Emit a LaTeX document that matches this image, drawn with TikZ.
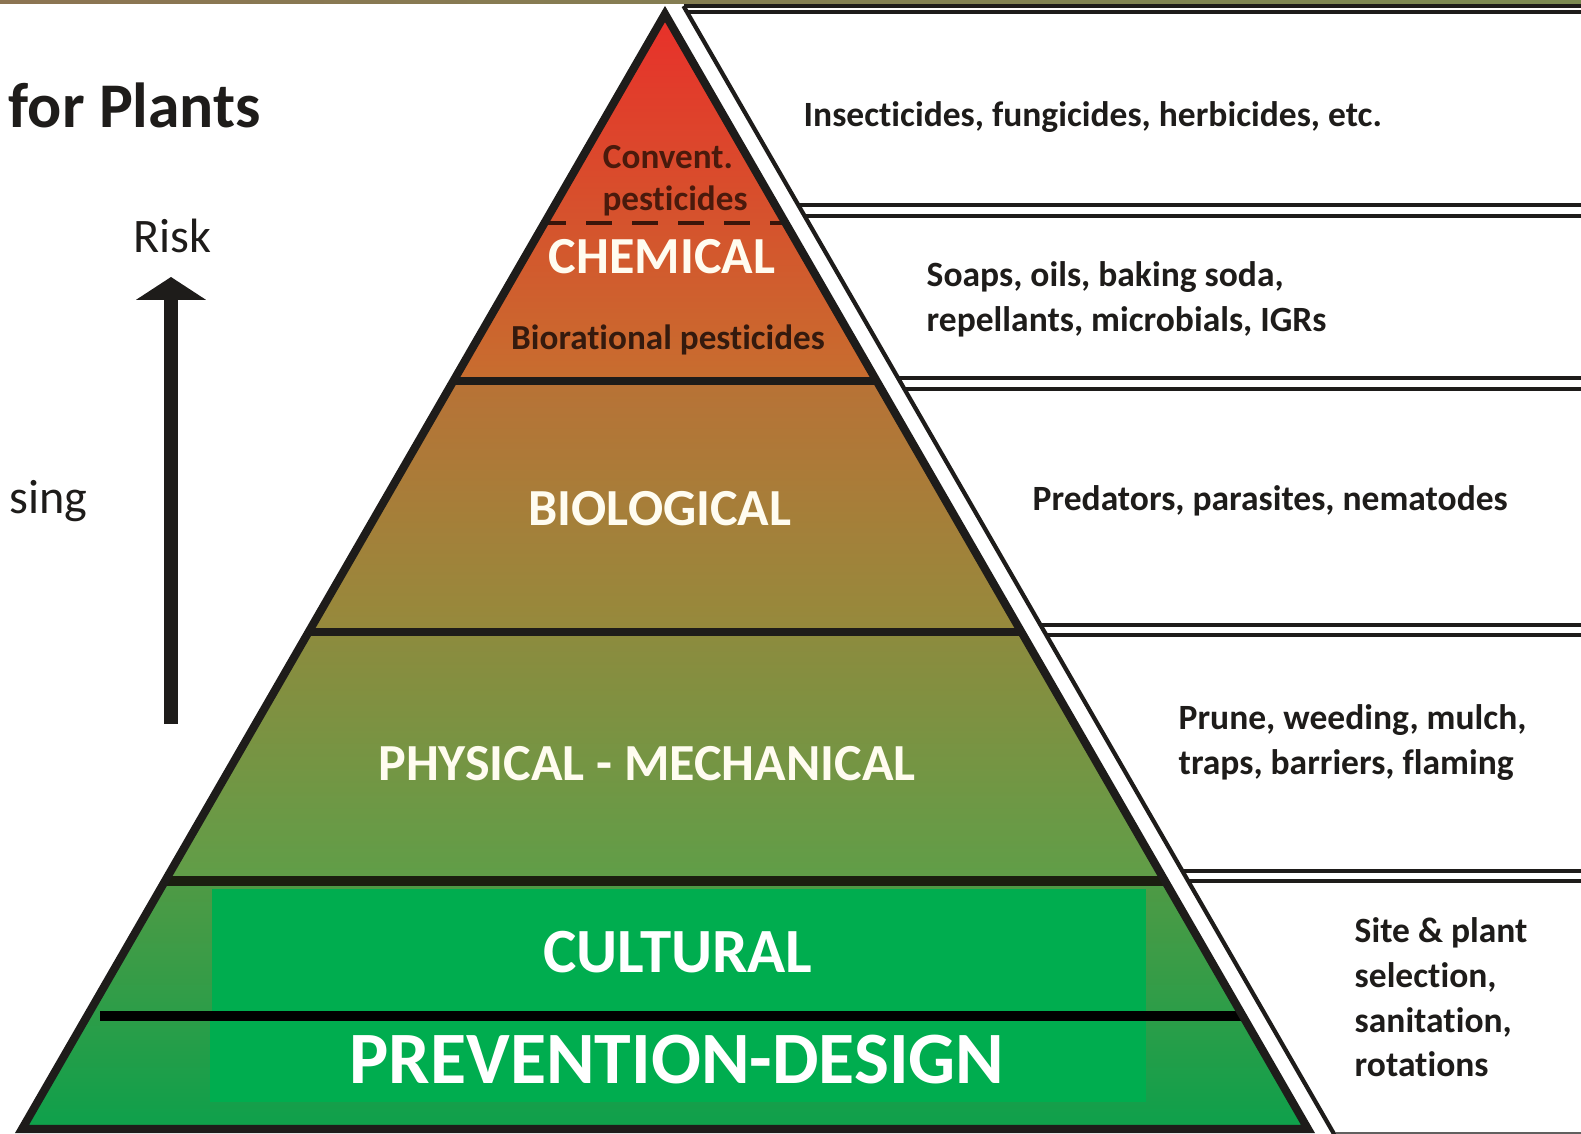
\documentclass[tikz,border=0pt]{standalone}
\usepackage{fontspec}
\setmainfont{Carlito}[Ligatures=NoCommon]
\usetikzlibrary{arrows.meta}
\definecolor{chemtop}{HTML}{E8302A}
\definecolor{chemmid}{HTML}{D6552B}
\definecolor{chembot}{HTML}{C76E2F}
\definecolor{biotop}{HTML}{B87236}
\definecolor{biobot}{HTML}{958A3C}
\definecolor{phystop}{HTML}{8D8B3E}
\definecolor{physbot}{HTML}{5F9E48}
\definecolor{culttop}{HTML}{4F9A45}
\definecolor{cultbot}{HTML}{0EA04B}
\definecolor{brightgreen}{HTML}{00AD4F}
\definecolor{ink}{HTML}{1E1C1A}
\definecolor{brownink}{HTML}{4A1A0C}
\definecolor{cream}{HTML}{FFFCF0}
\definecolor{stripa}{HTML}{8C7452}
\definecolor{stripb}{HTML}{7C8A52}
\begin{document}
\begin{tikzpicture}[x=0.01cm,y=-0.01cm,
  outline/.style={draw=ink, line width=2.3pt, line join=miter},
  layerline/.style={draw=ink, line width=2.3pt},
  panelline/.style={draw=ink, line width=1.2pt},
  whitelbl/.style={font=\bfseries\fontsize{14.8pt}{17pt}\selectfont, text=cream, inner sep=0pt, anchor=base},
  darklbl/.style={font=\bfseries\fontsize{10pt}{12pt}\selectfont, text=brownink, inner sep=0pt, anchor=base},
  desc/.style={font=\bfseries\fontsize{10.1pt}{12pt}\selectfont, text=ink, inner sep=0pt, anchor=base west},
  sidetext/.style={font=\fontsize{13.7pt}{16pt}\selectfont, text=ink, inner sep=0pt}]
\useasboundingbox (0,0) rectangle (1581,1134);
\clip (0,0) rectangle (1581,1134);
\fill[white] (0,0) rectangle (1581,1134);
% top strip
\shade[left color=stripa, right color=stripb] (0,0) rectangle (1581,4);

% pyramid layers
\shade[top color=chemtop, middle color=chemmid, bottom color=chembot]
  (665,14) -- (876.6,381) -- (453.4,381) -- cycle;
\shade[top color=biotop, bottom color=biobot]
  (453.4,381) -- (876.6,381) -- (1021.4,632) -- (308.6,632) -- cycle;
\shade[top color=phystop, bottom color=physbot]
  (308.6,632) -- (1021.4,632) -- (1165,881) -- (165,881) -- cycle;
\shade[top color=culttop, bottom color=cultbot]
  (165,881) -- (1165,881) -- (1308,1129) -- (22,1129) -- cycle;
\fill[brightgreen] (212,889) rectangle (1146,1011);
\fill[brightgreen] (210,1021) rectangle (1146,1102);

% layer separators
\draw[layerline, line width=2.2pt] (453.4,381) -- (876.6,381);
\draw[layerline, line width=2.3pt] (308.6,632) -- (1021.4,632);
\draw[layerline, line width=3.1pt, draw={rgb,255:red,27;green,30;blue,16}] (165,881) -- (1165,881);
\draw[line width=3.1pt, black] (100,1016) -- (1243,1016);
\draw[draw=brownink!80!black, line width=1pt, dash pattern=on 7.4pt off 5.7pt, dash phase=2pt] (547,223) -- (784,223);

% pyramid outline
\draw[outline] (665,14) -- (1308,1129) -- (22,1129) -- cycle;

% right panels
\draw[panelline] (683.5,6) -- (1337.5,1140);
\foreach \yy/\xx in {6/683.5, 12/687, 205/798.3, 216/804.6, 378/898.1, 389/904.4, 625/1040.5, 635/1046.3, 871/1182.4, 881/1188.1}
  \draw[panelline] (\xx,\yy) -- (1600,\yy);
\draw[panelline, line width=0.6pt, draw=ink!70] (1336,1133) -- (1600,1133);

% pyramid labels
\node[darklbl] (conv) at (668,169) {Convent.};
\node[darklbl] (pest) at (675,211) {pesticides};
\node[whitelbl] (chem) at (662,274) {CHEMICAL};
\node[darklbl, text={rgb,255:red,52;green,26;blue,14}] (biorat) at (668,350) {Biorational pesticides};
\node[whitelbl] (bio) at (660,526) {BIOLOGICAL};
\node[whitelbl] (phys) at (647,781) {PHYSICAL - MECHANICAL};
\node[whitelbl, text=white, font=\bfseries\fontsize{17.9pt}{20pt}\selectfont] (cult) at (678,973) {CULTURAL};
\node[whitelbl, text=white, font=\bfseries\fontsize{21pt}{24pt}\selectfont] (prev) at (677,1084) {PREVENTION-DESIGN};

% panel descriptions
\node[desc] (d1) at (803,127) {Insecticides, fungicides, herbicides, etc.};
\node[desc] (d2a) at (926,287) {Soaps, oils, baking soda,};
\node[desc] (d2b) at (926,332) {repellants, microbials, IGRs};
\node[desc] (d3) at (1032,511) {Predators, parasites, nematodes};
\node[desc] (d4a) at (1178,730) {Prune, weeding, mulch,};
\node[desc] (d4b) at (1178,775) {traps, barriers, flaming};
\node[desc] (d5a) at (1354,943) {Site \& plant};
\node[desc] (d5b) at (1354,988) {selection,};
\node[desc] (d5c) at (1354,1033) {sanitation,};
\node[desc] (d5d) at (1354,1077) {rotations};

% left side
\node[font=\bfseries\fontsize{18.1pt}{20pt}\selectfont, text=ink, inner sep=0pt, anchor=base west] (title) at (8,128) {for Plants};
\node[sidetext, anchor=base] (risk) at (172,253) {Risk};
\node[sidetext, anchor=base east] (incr) at (88,514) {sing};
\coordinate (arrowfoot) at (171,724);
\coordinate (arrowtip) at (171,277);
\draw[ink, line width=4.2pt, -{Triangle[width=19.6pt,length=6.5pt]}] (arrowfoot) -- (arrowtip);
\end{tikzpicture}
\end{document}
